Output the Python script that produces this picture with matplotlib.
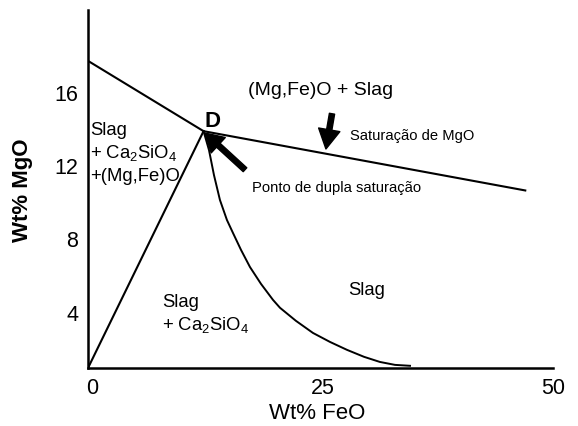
import matplotlib
matplotlib.use("Agg")
import matplotlib.pyplot as plt

plt.rcParams['font.family'] = ['Liberation Sans', 'DejaVu Sans']
plt.rcParams['mathtext.default'] = 'regular'

# boundaries (Wt% FeO, Wt% MgO)
D_FEO, D_MGO = 12.05, 13.9

mgo_sat_feo = [-0.5, D_FEO, 47.1]
mgo_sat_mgo = [17.73, D_MGO, 10.66]

ca2sio4_feo = [-0.5, D_FEO]
ca2sio4_mgo = [1.0, D_MGO]

curve_feo = [D_FEO, 12.64, 13.18, 13.83, 14.59, 15.25, 16.12, 17.09, 18.29, 19.59,
             20.35, 22.08, 23.93, 25.78, 27.62, 29.47, 31.2, 32.84, 34.47]
curve_mgo = [D_MGO, 12.87, 11.51, 10.15, 9.06, 8.35, 7.43, 6.50, 5.58, 4.71,
             4.28, 3.57, 2.91, 2.42, 1.99, 1.61, 1.33, 1.17, 1.12]

x_ticks = [0, 25, 50]
y_ticks = [4, 8, 12, 16]

fig = plt.figure(figsize=(5.78, 4.26), dpi=100)
ax = fig.add_axes([88 / 578, 58 / 426, 465 / 578, 358 / 426])

ax.plot(mgo_sat_feo, mgo_sat_mgo, color='black', lw=1.5, solid_capstyle='butt')
ax.plot(ca2sio4_feo, ca2sio4_mgo, color='black', lw=1.5)
ax.plot(curve_feo, curve_mgo, color='black', lw=1.4, solid_joinstyle='round')

ax.set_xlim(-0.5, 50)
ax.set_ylim(1.0, 20.5)
ax.set_xticks(x_ticks)
ax.set_yticks(y_ticks)
ax.tick_params(length=0, labelsize=15.5, pad=7)
for s in ['top', 'right']:
    ax.spines[s].set_visible(False)
for s in ['left', 'bottom']:
    ax.spines[s].set_linewidth(1.8)

ax.set_xlabel('Wt% FeO', fontsize=16, va='center')
ax.xaxis.set_label_coords(0.493, -0.126)
ax.set_ylabel('Wt% MgO', fontsize=16, fontweight='bold', va='center', ha='center')
ax.yaxis.set_label_coords(-0.14, 0.497)

# region labels
ax.text(16.87, 15.86, '(Mg,Fe)O + Slag', fontsize=14)
ax.text(-0.28, 13.69, 'Slag', fontsize=13.3)
ax.text(-0.28, 12.44, '+ Ca$_2$SiO$_4$', fontsize=13.3)
ax.text(-0.28, 11.18, '+(Mg,Fe)O', fontsize=13.3)
ax.text(7.54, 4.33, 'Slag', fontsize=13.3)
ax.text(7.54, 3.07, '+ Ca$_2$SiO$_4$', fontsize=13.3)
ax.text(27.73, 4.98, 'Slag', fontsize=13.3)
ax.text(13.07, 14.4, 'D', fontsize=16, fontweight='bold', ha='center', va='center')
ax.text(17.31, 10.59, 'Ponto de dupla saturação', fontsize=10.6)
ax.text(27.95, 13.41, 'Saturação de MgO', fontsize=10.6)

# arrows
ax.annotate('', xy=(12.2, 13.8), xytext=(16.55, 11.8),
            arrowprops=dict(arrowstyle='simple,head_length=1.3,head_width=1.5,tail_width=0.38',
                            color='black', shrinkA=0, shrinkB=0))
ax.annotate('', xy=(25.34, 12.93), xytext=(26.0, 14.85),
            arrowprops=dict(arrowstyle='simple,head_length=1.4,head_width=1.55,tail_width=0.38',
                            color='black', shrinkA=0, shrinkB=0))

fig.savefig('out.png', dpi=100)
